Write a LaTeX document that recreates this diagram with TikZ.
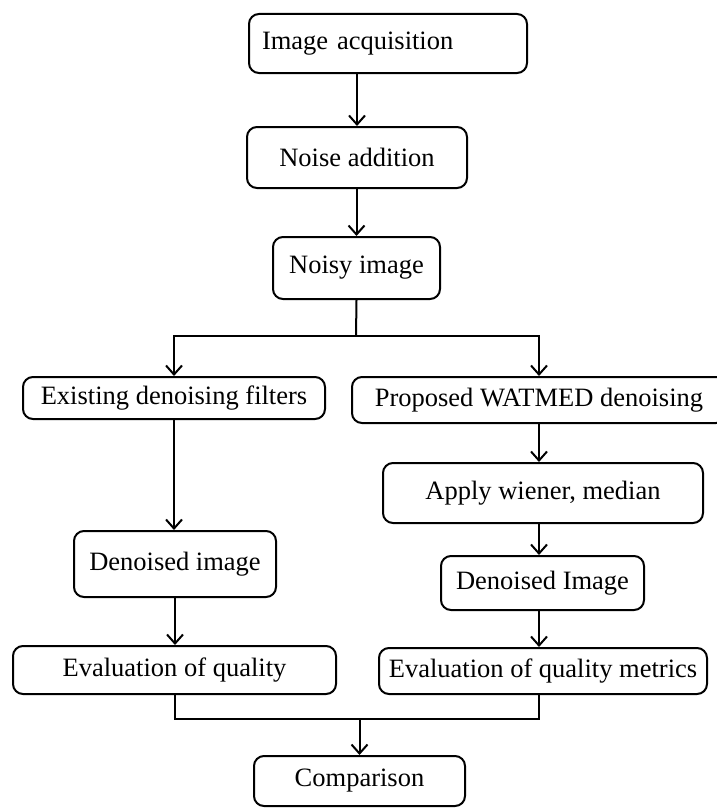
\documentclass[tikz,border=0pt]{standalone}
\usepackage{fontspec}
\setmainfont{Liberation Serif}
\usetikzlibrary{arrows.meta}
\tikzset{
	stepbox/.style={draw, line width=2pt, rounded corners=10pt, inner sep=0pt, align=center, font=\fontsize{26.5}{30}\selectfont},
	flowarrow/.style={line width=2pt, -{Straight Barb[length=9pt,width=16pt,line width=2pt]}},
	flowline/.style={line width=2pt}
}
\begin{document}
\begin{tikzpicture}[x=1pt, y=-1pt]
		%%%%% START %%%%%
		
		\useasboundingbox[fill=white] (0, 0) rectangle (717, 808);
		\clip (0, 0) rectangle (717, 808);
		
		\node[stepbox, minimum width=278pt, minimum height=59pt, text width=252pt, inner xsep=13pt, align=left] (acq) at (388, 43.5) {Image acquisition};
		\node[stepbox, minimum width=220pt, minimum height=61pt] (noise) at (357, 157.5) {Noise addition};
		\node[stepbox, minimum width=167pt, minimum height=62pt] (noisy) at (356.5, 268) {Noisy image};
		
		\node[stepbox, minimum width=302pt, minimum height=42pt] (exist) at (174, 398) {Existing denoising filters};
		\node[stepbox, minimum width=374pt, minimum height=46pt] (prop) at (539, 400) {Proposed WATMED denoising};
		
		\node[stepbox, minimum width=320pt, minimum height=60pt] (apply) at (543, 493) {Apply wiener, median};
		\node[stepbox, minimum width=202pt, minimum height=66pt] (deno1) at (175, 564) {Denoised image};
		\node[stepbox, minimum width=203pt, minimum height=54pt] (deno2) at (542.5, 583) {Denoised Image};
		
		\node[stepbox, minimum width=323pt, minimum height=48pt] (eval1) at (174.5, 670) {Evaluation of quality};
		\node[stepbox, minimum width=328pt, minimum height=46pt] (eval2) at (543, 671) {Evaluation of quality metrics};
		
		\node[stepbox, minimum width=211pt, minimum height=50pt] (comp) at (359.5, 781) {Comparison};
		
		\coordinate (split) at (356, 336);
		\coordinate (join) at (359.5, 719);
		
		\draw[flowarrow] (noise.north |- acq.south) -- (noise.north);
		\draw[flowarrow] (noisy.north |- noise.south) -- (noisy.north);
		
		\draw[flowline] (noisy.south) -- (split);
		\draw[flowarrow] (split) -| (exist.north);
		\draw[flowarrow] (split) -| (prop.north);
		
		\draw[flowarrow] (exist.south) -- (exist.south |- deno1.north);
		\draw[flowarrow] (deno1.south) -- (deno1.south |- eval1.north);
		
		\draw[flowarrow] (prop.south) -- (prop.south |- apply.north);
		\draw[flowarrow] (prop.south |- apply.south) -- (prop.south |- deno2.north);
		\draw[flowarrow] (prop.south |- deno2.south) -- (prop.south |- eval2.north);
		
		\draw[flowline] (eval1.south) |- (prop.south |- join) -- (prop.south |- eval2.south);
		\draw[flowarrow] (join) -- (comp.north);
		
		%%%%% END %%%%%
	\end{tikzpicture}
\end{document}
